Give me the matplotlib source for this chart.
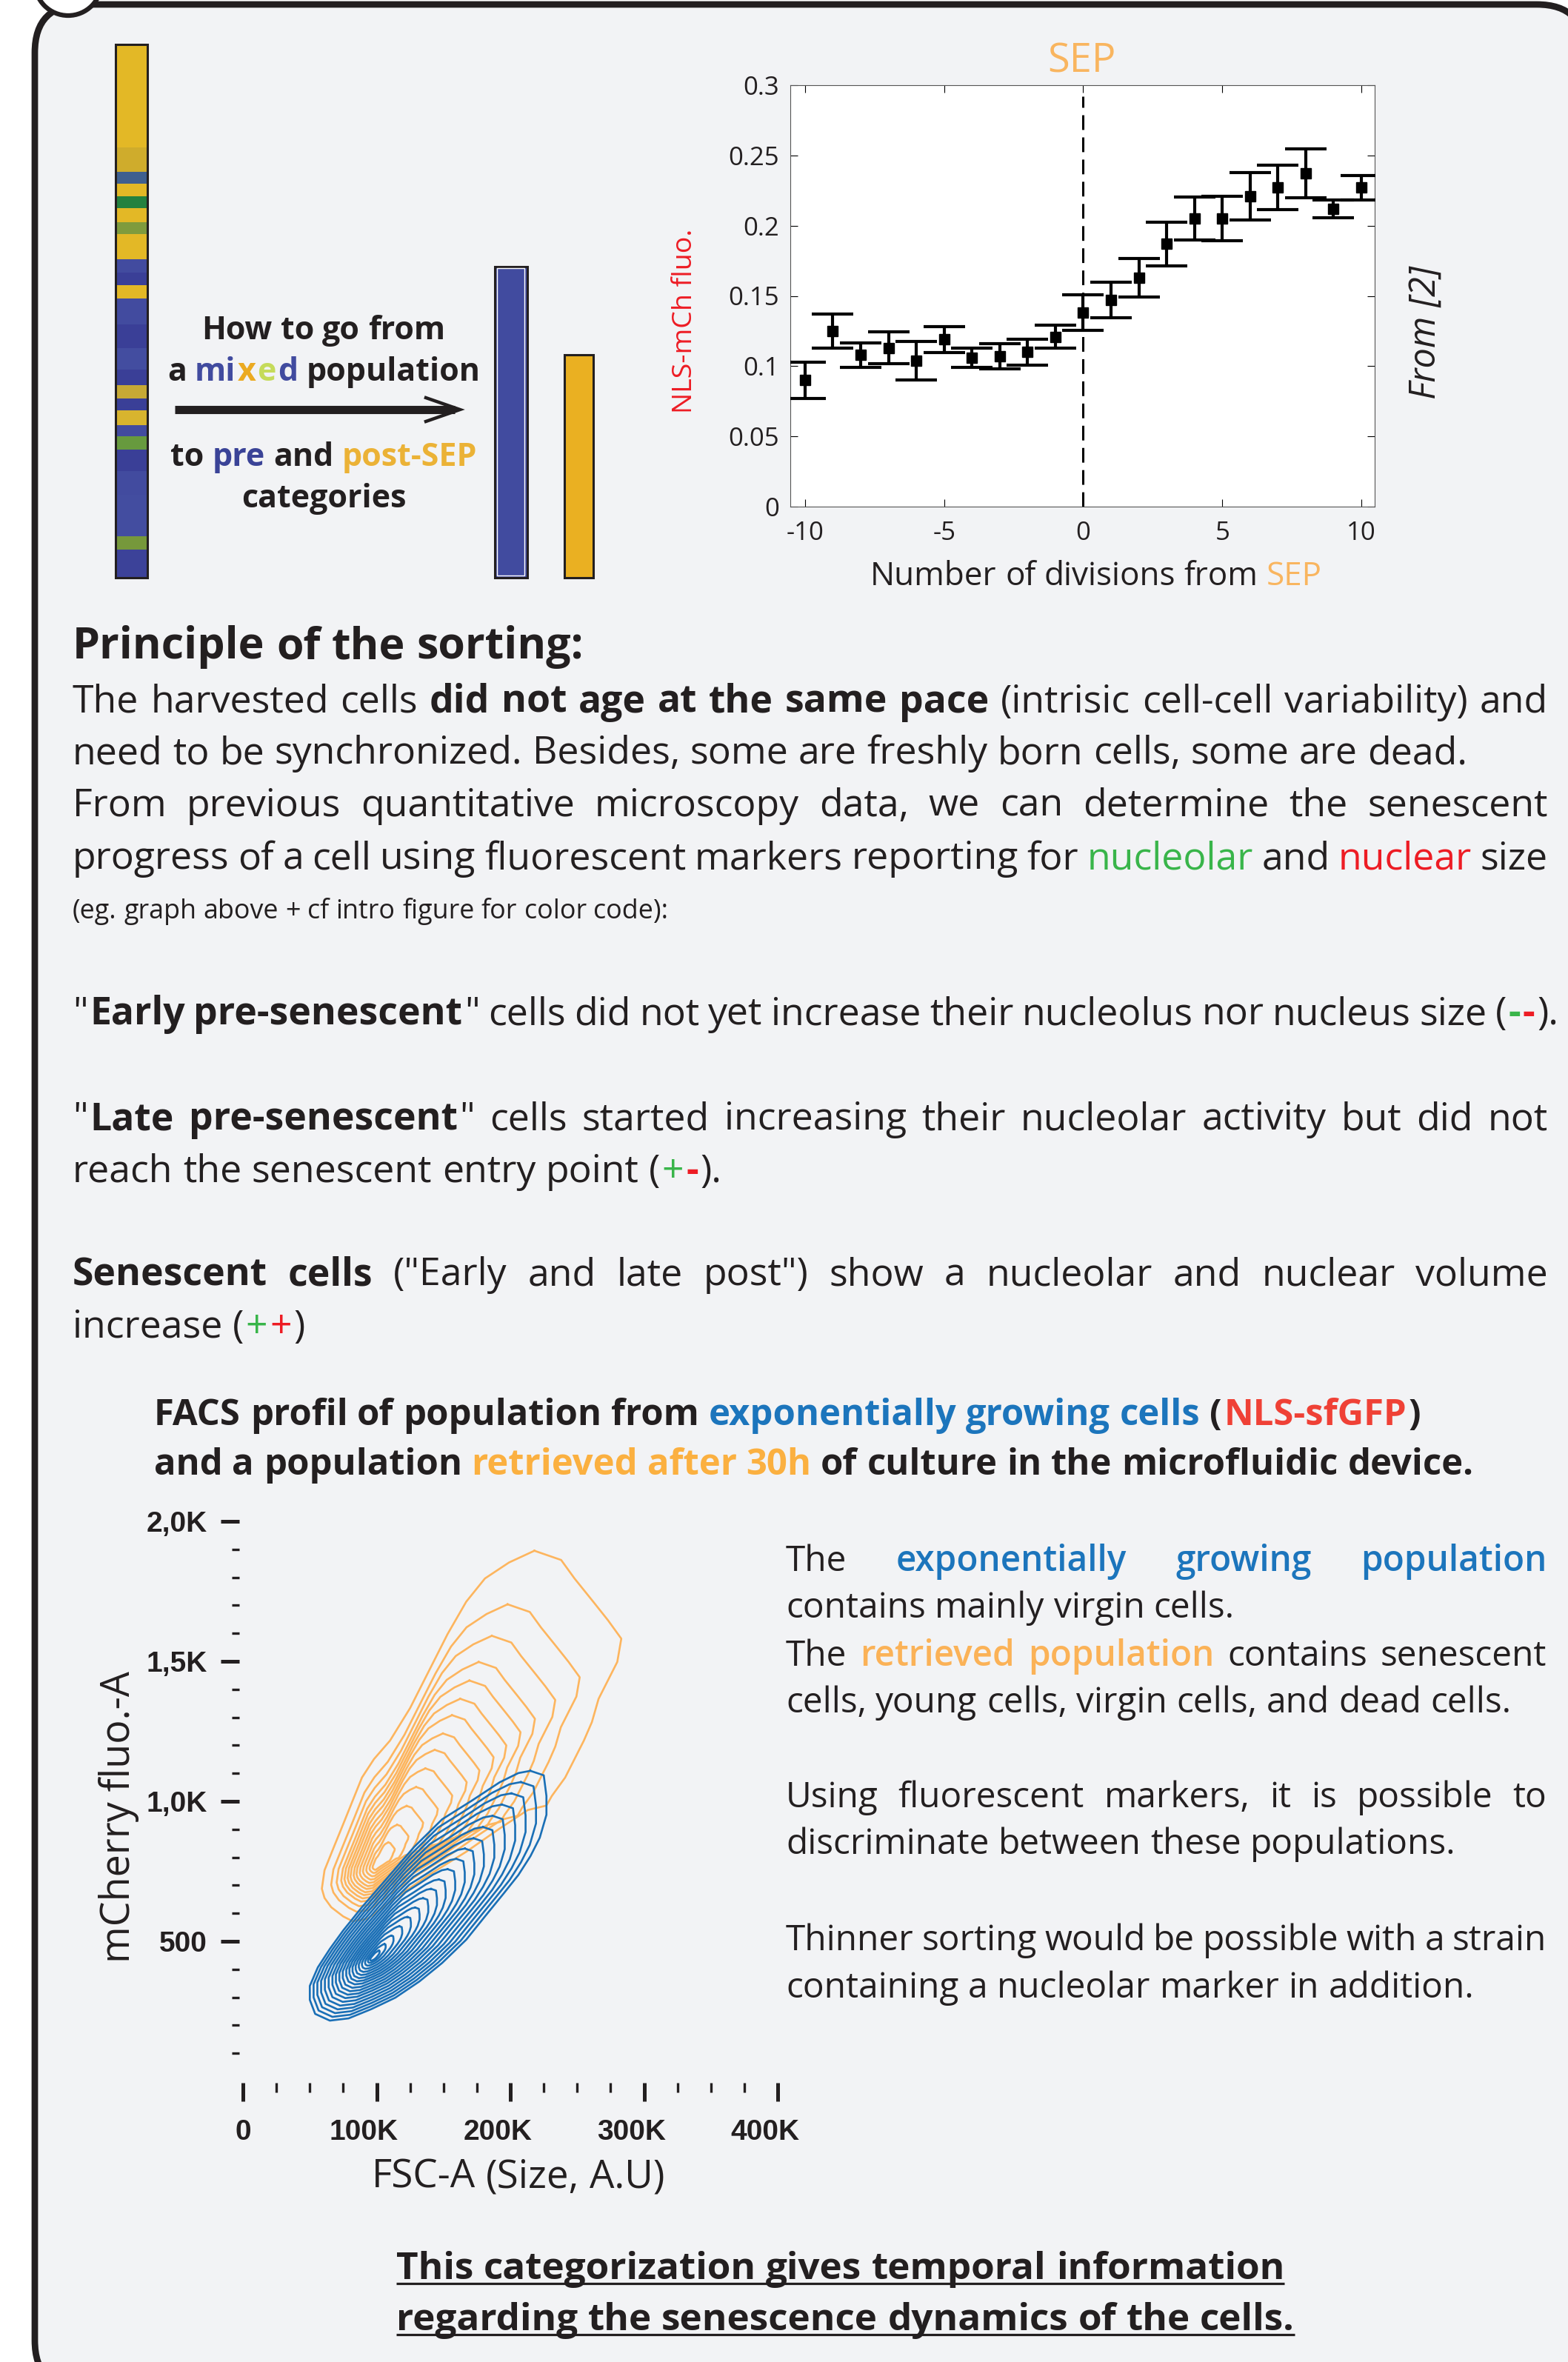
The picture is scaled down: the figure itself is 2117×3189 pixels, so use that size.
import matplotlib
matplotlib.use("Agg")
import matplotlib.pyplot as plt
import matplotlib.transforms as mtransforms
from matplotlib.patches import FancyBboxPatch, Circle
import numpy as np

W, H, DPI = 2117, 3189, 100

plt.rcParams["font.family"] = ["Open Sans", "DejaVu Sans"]
plt.rcParams["axes.unicode_minus"] = False

INK = "#231F20"
PANEL = "#F2F3F5"
GREEN = "#39B54A"
RED = "#ED1C24"
BLUE = "#1C75BC"
ORANGE = "#FBB040"
SEP_ORANGE = "#F9B55F"
CONT_ORANGE = "#FDB55E"
CONT_BLUE = "#1A6FB6"
BAR_BLUE = "#414B9F"
BAR_YELLOW = "#EAB022"

# ---- mixed population bar: stripe edges as fraction from the top ----
mix_edges = [0, .193, .239, .262, .285, .308, .334, .356, .403, .428, .452, .477, .525,
             .57, .61, .640, .665, .686, .714, .735, .760, .80, .845, .923, .948, 1.0]
mix_colors = ["#E3B826", "#CFAC2C", "#3F5F8F", "#E3B826", "#24813F", "#E3B826", "#7F9B3D",
              "#E3B826", "#424B9F", "#3A3F97", "#E3B826", "#424B9F", "#3A3F97", "#434DA0",
              "#3A3F97", "#C7A935", "#3A3F97", "#D8B42E", "#424B9F", "#679A3E", "#3A3F97",
              "#424B9F", "#434DA0", "#76983B", "#3C4299"]
sorted_frac = [0.583, 0.417]  # pre-SEP, post-SEP

# ---- NLS-mCh fluo. vs number of divisions from SEP ----
divisions = list(range(-10, 11))
nls_mean = [0.090, 0.125, 0.108, 0.113, 0.104, 0.119, 0.106, 0.107, 0.110, 0.121, 0.138,
            0.147, 0.163, 0.187, 0.205, 0.205, 0.221, 0.227, 0.237, 0.212, 0.227]
nls_sem = [0.013, 0.012, 0.0087, 0.0115, 0.0138, 0.0093, 0.0068, 0.0089, 0.0092, 0.0081,
           0.0127, 0.0128, 0.0137, 0.0157, 0.0152, 0.0157, 0.0169, 0.0158, 0.0174, 0.0065, 0.0086]
sep_yticks = [0, 0.05, 0.1, 0.15, 0.2, 0.25, 0.3]
sep_yticklabels = ["0", "0.05", "0.1", "0.15", "0.2", "0.25", "0.3"]
sep_xticks = [-10, -5, 0, 5, 10]
sep_xticklabels = ["-10", "-5", "0", "5", "10"]

# ---- FACS contours (FSC-A in K, mCherry-A): outer contour, density peak, level scales ----
orange_x = [218, 238, 248, 262, 273, 283, 280, 273, 266, 261, 255, 248, 241, 231, 227, 213,
            192, 167, 139, 114, 93, 82, 75, 66, 61, 59, 61, 68, 75, 82, 89, 98, 110, 125,
            139, 153, 167, 181, 199]
orange_y = [1895, 1862, 1796, 1713, 1647, 1581, 1498, 1432, 1366, 1283, 1217, 1151, 1085,
            1019, 985, 969, 903, 820, 737, 655, 580, 572, 589, 622, 655, 688, 754, 837, 919,
            1002, 1085, 1151, 1217, 1333, 1465, 1597, 1713, 1796, 1853]
orange_peak = (100, 770)
orange_levels = [1.0, 0.83, 0.73, 0.647, 0.588, 0.53, 0.478, 0.42, 0.368, 0.309, 0.25,
                 0.19, 0.13, 0.074]

blue_x = [215, 225, 227, 227, 222, 215, 206, 195, 181, 167, 149, 132, 114, 96, 79, 65, 54,
          50, 50, 56, 65, 75, 89, 107, 128, 149, 171, 192, 206]
blue_y = [1109, 1093, 1019, 952, 870, 804, 737, 671, 589, 506, 423, 357, 299, 258, 225, 217,
          241, 291, 341, 407, 473, 539, 622, 721, 837, 936, 1002, 1068, 1101]
blue_peak = (97, 440)
blue_levels = [1.0, 0.94, 0.88, 0.82, 0.76, 0.70, 0.64, 0.585, 0.53, 0.475, 0.42, 0.37,
               0.32, 0.27, 0.22, 0.17, 0.12, 0.075, 0.04]

facs_xticks = [0, 100, 200, 300, 400]
facs_xticklabels = ["0", "100K", "200K", "300K", "400K"]
facs_yticks = [500, 1000, 1500, 2000]
facs_yticklabels = ["500", "1,0K", "1,5K", "2,0K"]

# ---- texts ----
tl_lines = [
    [("How to go from", INK)],
    [("a ", INK), ("mi", BAR_BLUE), ("x", "#EBAA21"), ("e", "#C5DB5A"), ("d", BAR_BLUE),
     (" population", INK)],
    [("to ", INK), ("pre", "#3A4397"), (" and ", INK), ("post-SEP", "#EBB236")],
    [("categories", INK)],
]
title = [("Principle of the sorting:", INK, "bold")]
body = [
    ([("The harvested cells ", INK), ("did not age at the same pace", INK, "bold"),
      (" (intrisic cell-cell variability) and", INK)], True),
    ([("need to be synchronized. Besides, some are freshly born cells, some are dead.", INK)], False),
    ([("From previous quantitative microscopy data, we can determine the senescent", INK)], True),
    ([("progress of a cell using fluorescent markers reporting for ", INK), ("nucleolar", GREEN),
      (" and ", INK), ("nuclear", RED), (" size", INK)], True),
]
small = [("(eg. graph above + cf intro figure for color code):", INK)]
early_line = [('"', INK), ("Early pre-senescent", INK, "bold"),
              ('" cells did not yet increase their nucleolus nor nucleus size (', INK),
              ("-", GREEN, "bold"), ("-", RED, "bold"), (").", INK)]
categories = [
    ([('"', INK), ("Late pre-senescent", INK, "bold"),
      ('" cells started increasing their nucleolar activity but did not', INK)], True),
    ([("reach the senescent entry point (", INK), ("+", GREEN), ("-", RED, "bold"), (").", INK)], False),
    ([("Senescent cells", INK, "bold"),
      (' ("Early and late post") show a nucleolar and nuclear volume', INK)], True),
    ([("increase (", INK), ("+", GREEN), ("+", RED), (")", INK)], False),
]
facs_head = [
    [("FACS profil of population from ", INK), ("exponentially growing cells", BLUE),
     (" (", INK), ("NLS-sfGFP", "#EF4136"), (")", INK)],
    [("and a population ", INK), ("retrieved after 30h", ORANGE),
     (" of culture in the microfluidic device.", INK)],
]
right_text = [
    ([("The ", INK), ("exponentially growing population", BLUE, "semibold")], True),
    ([("contains mainly virgin cells.", INK)], False),
    ([("The ", INK), ("retrieved population", "#FBB257", "semibold"), (" contains senescent", INK)], True),
    ([("cells, young cells, virgin cells, and dead cells.", INK)], False),
    ([("Using fluorescent markers, it is possible to", INK)], True),
    ([("discriminate between these populations.", INK)], False),
    ([("Thinner sorting would be possible with a strain", INK)], True),
    ([("containing a nucleolar marker in addition.", INK)], False),
]
bottom = [
    [("This categorization gives temporal information", INK)],
    [("regarding the senescence dynamics of the cells.", INK)],
]

# ---------------------------------------------------------------------------
fig = plt.figure(figsize=(W / DPI, H / DPI), dpi=DPI)
fig.patch.set_facecolor("white")
bg = fig.add_axes([0, 0, 1, 1])
bg.set_xlim(0, W)
bg.set_ylim(H, 0)
bg.axis("off")
renderer = fig.canvas.get_renderer()


def px_axes(left, top, right, bottom):
    return fig.add_axes([left / W, 1 - bottom / H, (right - left) / W, (bottom - top) / H])


def text_width(s, size, weight="normal", style="normal"):
    t = bg.text(0, 0, s, size=size, weight=weight, style=style)
    w = t.get_window_extent(renderer).width
    t.remove()
    return w


def space_width(size, weight="normal"):
    return text_width("n n", size, weight) - text_width("nn", size, weight)


def split_words(runs, weight):
    words = [[]]
    for run in runs:
        text, color = run[0], run[1]
        wt = run[2] if len(run) > 2 else weight
        for i, part in enumerate(text.split(" ")):
            if i > 0:
                words.append([])
            if part:
                words[-1].append((part, color, wt))
    return [w for w in words if w]


def layout(runs, size, weight):
    words = split_words(runs, weight)
    bear = size * DPI / 72 * 0.05
    widths = []
    for w in words:
        ws = [text_width(p, size, wt) for p, c, wt in w]
        ws = [x + (bear if i < len(ws) - 1 else 0) for i, x in enumerate(ws)]
        widths.append(ws)
    return words, widths


def natural_width(runs, size, weight="normal"):
    words, widths = layout(runs, size, weight)
    return sum(sum(w) for w in widths) + space_width(size, weight) * (len(words) - 1)


def fit_size(runs, target, weight="normal"):
    return 20 * target / natural_width(runs, 20, weight)


def draw_runs(x, y, runs, size, weight="normal", justify=None, ha="left"):
    words, widths = layout(runs, size, weight)
    total = sum(sum(w) for w in widths)
    gap = space_width(size, weight)
    if justify and len(words) > 1:
        gap = (justify - total) / (len(words) - 1)
    full = total + gap * (len(words) - 1)
    if ha == "center":
        x = x - full / 2
    cx = x
    for w, ws in zip(words, widths):
        for (p, c, wt), pw in zip(w, ws):
            bg.text(cx, y, p, size=size, color=c, weight=wt, va="baseline", ha="left")
            cx += pw
        cx += gap
    return x, x + full


# frame
bg.add_patch(FancyBboxPatch((47, 6), 2140 - 47, 3225 - 6,
                            boxstyle="round,pad=0,rounding_size=65",
                            fc=PANEL, ec=INK, lw=6.3, clip_on=False))
bg.add_patch(Circle((92, -24), 45, fc="white", ec=INK, lw=4.5, clip_on=False))

# ---- bars ----
bar_ax = px_axes(100, 59.7, 850, 779.6)
bar_ax.set_xlim(100, 850)
bar_ax.set_ylim(0, 1)
bar_ax.axis("off")
for i, col in enumerate(mix_colors):
    bar_ax.bar(177.3, mix_edges[i + 1] - mix_edges[i], bottom=1 - mix_edges[i + 1],
               width=43.3, color=col, lw=0, clip_on=False)
bar_ax.bar(177.3, 1, width=43.3, fill=False, edgecolor=INK, lw=2.2, clip_on=False)
bar_ax.bar([689.7, 781], sorted_frac, width=[43.8, 39], color=[BAR_BLUE, BAR_YELLOW],
           edgecolor=INK, lw=2.2, clip_on=False)
bar_ax.bar(689.7, sorted_frac[0] - 0.006, bottom=0.003, width=37.5, fill=False,
           edgecolor="white", lw=1.0, clip_on=False)

tl_size = fit_size(tl_lines[1], 423, "bold")
for runs, yb in zip(tl_lines, [458, 514, 629, 685]):
    draw_runs(437, yb, runs, tl_size, "bold", ha="center")
bg.plot([236, 614], [553, 553], color=INK, lw=8, solid_capstyle="butt")
bg.plot([575, 621, 575], [537, 553, 569], color=INK, lw=3.2, solid_joinstyle="miter")

# ---- SEP plot ----
sep = px_axes(1067, 115, 1856, 684)
sep.set_facecolor("white")
sep.axvline(0, ymax=0.973, color="black", lw=2.2, linestyle=(0, (6.5, 3.3)), zorder=1)
sep.errorbar(divisions, nls_mean, yerr=nls_sem, fmt="s", color="black", ms=9.5, lw=3,
             capsize=20, capthick=3, zorder=3)
sep.set_xlim(-10.53, 10.48)
sep.set_ylim(0, 0.3)
sep.set_xticks(sep_xticks)
sep.set_xticklabels(sep_xticklabels)
sep.set_yticks(sep_yticks)
sep.set_yticklabels(sep_yticklabels)
sep.tick_params(direction="in", length=7, width=0.8, top=True, right=True,
                labelsize=25, labelcolor=INK)
sep.tick_params(axis="x", pad=14)
sep.tick_params(axis="y", pad=11)
for s in sep.spines.values():
    s.set_linewidth(0.8)
    s.set_color("#555555")

bg.text(1460, 97, "SEP", size=fit_size([("SEP", SEP_ORANGE)], 92), color=SEP_ORANGE,
        ha="center", va="baseline")
xl = [("Number of divisions from ", INK), ("SEP", SEP_ORANGE)]
draw_runs(1480, 790, xl, fit_size(xl, 609), ha="center")
yl_size = 20 * 249 / text_width("NLS-mCh fluo.", 20)
bg.text(925, 433, "NLS-mCh fluo.", size=yl_size, color=RED, rotation=90,
        ha="center", va="center")
fr_size = 20 * 180 / text_width("From [2]", 20, style="italic")
bg.text(1925, 449, "From [2]", size=fr_size, color=INK, style="italic", rotation=90,
        ha="center", va="center")

# ---- text block ----
L, R = 98, 2090
draw_runs(L, 889, title, fit_size(title, 691, "bold"), "bold")
body_size = fit_size(body[1][0], 1876)
for (runs, just), yb in zip(body, [962, 1031, 1102, 1173]):
    draw_runs(L, yb, runs, body_size, justify=(R - L) if just else None)
draw_runs(L, 1240, small, fit_size(small, 803))
# the reference line runs to the very edge; keep it just inside
draw_runs(L, 1383, early_line, body_size, justify=(R - L + 14))
for (runs, just), yb in zip(categories, [1525, 1596, 1735, 1806]):
    draw_runs(L, yb, runs, body_size, justify=(R - L) if just else None)

head_size = fit_size(facs_head[0], 1709, "bold")
draw_runs(208, 1924, facs_head[0], head_size, "bold")
draw_runs(208, 1991, facs_head[1], head_size, "bold")

RL, RR = 1061, 2088
right_size = fit_size(right_text[3][0], 979)
for (runs, just), yb in zip(right_text, [2121, 2184, 2249, 2312, 2440, 2503, 2633, 2697]):
    draw_runs(RL, yb, runs, right_size, justify=(RR - RL) if just else None)

bot_size = fit_size(bottom[0], 1200, "bold")
for runs, yb in zip(bottom, [3077, 3146]):
    x0, x1 = draw_runs(535, yb, runs, bot_size, "bold")
    bg.plot([x0, x1], [yb + 6, yb + 6], color=INK, lw=2.3, solid_capstyle="butt")

# ---- FACS contour plot ----
facs = px_axes(323, 2054, 1050, 2812)
facs.patch.set_alpha(0)
for s in facs.spines.values():
    s.set_visible(False)
for ox, oy, peak, levels, col in [(orange_x, orange_y, orange_peak, orange_levels, CONT_ORANGE),
                                  (blue_x, blue_y, blue_peak, blue_levels, CONT_BLUE)]:
    ox = np.asarray(ox, float)
    oy = np.asarray(oy, float)
    for f in levels:
        rx = peak[0] + f * (ox - peak[0])
        ry = peak[1] + f * (oy - peak[1])
        facs.plot(np.append(rx, rx[0]), np.append(ry, ry[0]), color=col, lw=1.9)
facs.set_xlim(-2.8, 400)
facs.set_ylim(-5, 2000)
tick_font = dict(fontfamily="Liberation Sans", fontweight="bold", fontsize=28, color=INK)
facs.set_xticks(facs_xticks)
facs.set_xticklabels(facs_xticklabels, **tick_font)
facs.set_yticks(facs_yticks)
facs.set_yticklabels(facs_yticklabels, **tick_font)
facs.set_xticks([v for v in range(25, 400, 25) if v % 100], minor=True)
facs.set_yticks([v for v in range(100, 2000, 100) if v % 500], minor=True)
facs.tick_params(which="major", direction="out", length=18, width=3.6, color=INK)
facs.tick_params(axis="x", which="major", pad=17)
facs.tick_params(axis="y", which="major", pad=13)
facs.tick_params(axis="x", which="minor", direction="out", length=9, width=2.4, color=INK)
facs.tick_params(axis="y", which="minor", direction="out", length=7, width=2.4, color=INK)
shift = mtransforms.ScaledTranslation(-0.17, 0, fig.dpi_scale_trans)
for lbl in facs.get_xticklabels()[1:]:
    lbl.set_transform(lbl.get_transform() + shift)

fy_size = 20 * 394 / text_width("mCherry fluo.-A", 20)
bg.text(160, 2453, "mCherry fluo.-A", size=fy_size, color=INK, rotation=90,
        ha="center", va="center")
fx = [("FSC-A (Size, A.U)", INK)]
draw_runs(700, 2953, fx, fit_size(fx, 395), ha="center")

fig.savefig("out.png", dpi=DPI, facecolor="white")
